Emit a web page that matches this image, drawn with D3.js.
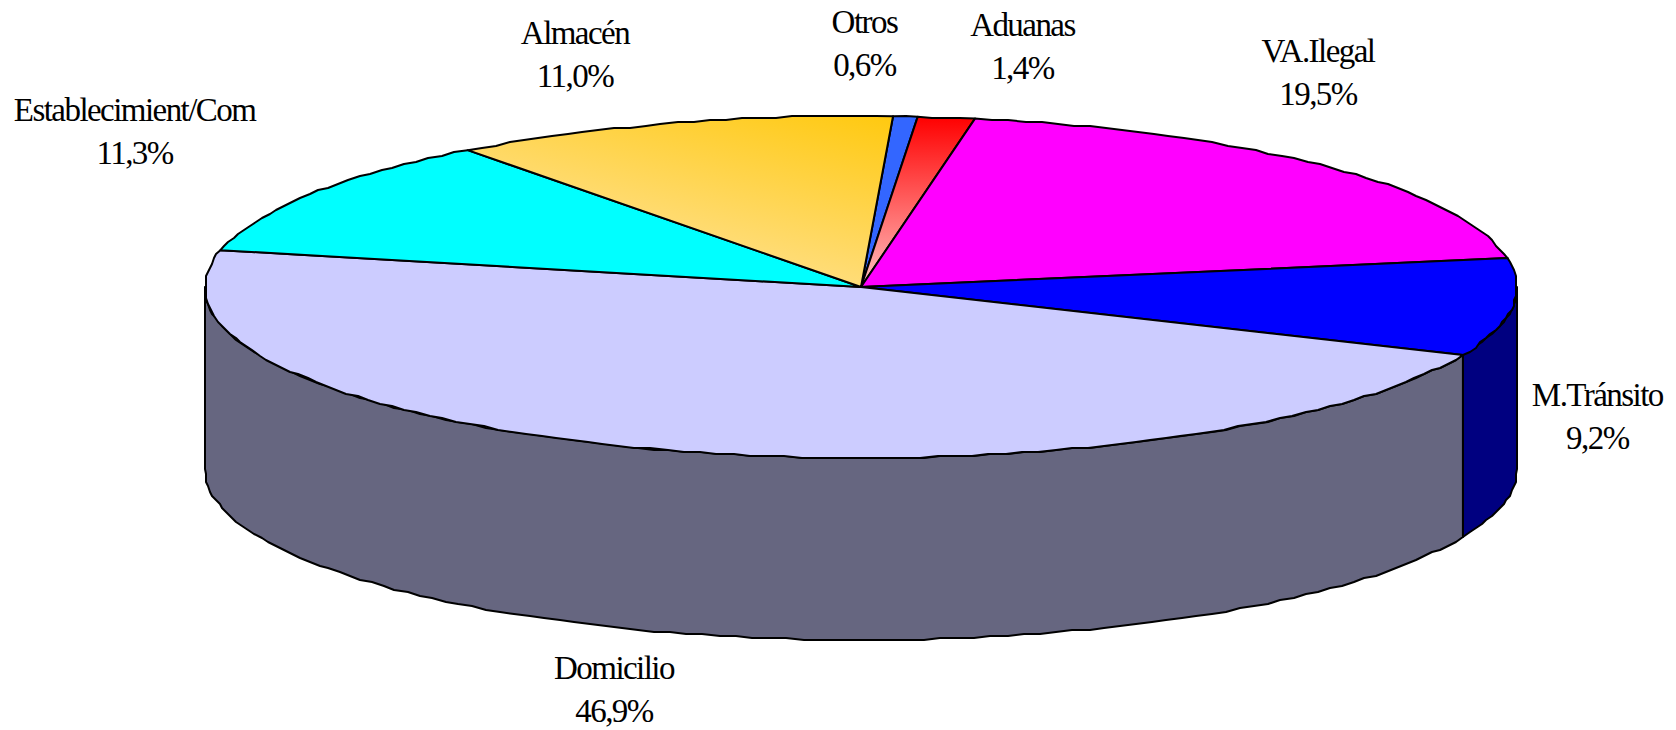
<!DOCTYPE html>
<html>
<head>
<meta charset="utf-8">
<script src="https://d3js.org/d3.v7.min.js"></script>
<style>
  html, body { margin: 0; padding: 0; background: #fff; }
  text { font-family: "Liberation Serif", serif; font-size: 33px; letter-spacing: -1.55px; fill: #000; }
</style>
</head>
<body>
<div id="chart"></div>
<script>
const categories = ["Otros", "Aduanas", "VA.Ilegal", "M.Tránsito", "Domicilio", "Establecimient/Com", "Almacén"];
const shares = [0.6, 1.4, 19.5, 9.2, 46.9, 11.3, 11.0];
const shareLabels = ["0,6%", "1,4%", "19,5%", "9,2%", "46,9%", "11,3%", "11,0%"];

const topColors = ["#3366ff", "url(#gradAduanas)", "#ff00ff", "#0000ff", "#ccccff", "#00ffff", "url(#gradAlmacen)"];
const wallColors = ["#1f3d99", "#990000", "#990099", "#000080", "#666680", "#009999", "#997a1f"];
// label nudge from the slice's rim point
const labelNudge = [[-41, -83], [76, -81], [-8, -104], [85, 99], [-45, 229], [-175, -73], [-94, -79]];

const width = 1676, height = 730;
const cx = 861, cy = 287, rx = 656, ry = 171, depth = 182;
const grid = 2;

const svg = d3.select("#chart").append("svg")
  .attr("width", width)
  .attr("height", height)
  .style("display", "block");

const defs = svg.append("defs");
const gradA = defs.append("linearGradient").attr("id", "gradAduanas")
  .attr("x1", 0).attr("y1", 0).attr("x2", 0).attr("y2", 1);
gradA.append("stop").attr("offset", "0%").attr("stop-color", "#ff0000");
gradA.append("stop").attr("offset", "100%").attr("stop-color", "#ffc0c0");
const gradB = defs.append("linearGradient").attr("id", "gradAlmacen")
  .attr("x1", 1).attr("y1", 0).attr("x2", 0.42).attr("y2", 0.85);
gradB.append("stop").attr("offset", "0%").attr("stop-color", "#ffc90f");
gradB.append("stop").attr("offset", "100%").attr("stop-color", "#ffe08c");

const pie = d3.pie().sort(null)
  .startAngle(2.8 * Math.PI / 180)
  .endAngle((360 + 2.8) * Math.PI / 180);
const slices = pie(shares);

function rim(a, dz) {
  return [cx + rx * Math.sin(a), cy - ry * Math.cos(a) + (dz || 0)];
}

// outline points are snapped so the rim has the slightly stepped look of the original
function snap(p) {
  return [Math.round(p[0] / grid) * grid, Math.round(p[1] / grid) * grid];
}

function arcPoints(a0, a1, dz) {
  const n = Math.max(2, Math.ceil((a1 - a0) / (1.5 * Math.PI / 180)));
  return d3.range(n + 1).map(i => {
    const p = rim(a0 + (a1 - a0) * i / n, dz);
    return (i === 0 || i === n) ? p : snap(p);
  });
}

const line = d3.line();

// side wall: only the part facing the viewer, between 90 and 270 degrees
slices.forEach((s, i) => {
  const a0 = Math.max(s.startAngle, Math.PI / 2);
  const a1 = Math.min(s.endAngle, 3 * Math.PI / 2);
  if (a1 <= a0) return;
  const upper = arcPoints(a0, a1, 0);
  const lower = arcPoints(a0, a1, depth).reverse();
  svg.append("path")
    .attr("d", line(upper.concat(lower)) + "Z")
    .attr("fill", wallColors[i])
    .attr("stroke", "#000")
    .attr("stroke-width", 2)
    .attr("stroke-linejoin", "round");
});

// top face
slices.forEach((s, i) => {
  const pts = [[cx, cy]].concat(arcPoints(s.startAngle, s.endAngle, 0));
  svg.append("path")
    .attr("d", line(pts) + "Z")
    .attr("fill", topColors[i])
    .attr("stroke", "#000")
    .attr("stroke-width", 2)
    .attr("stroke-linejoin", "round");
});

// labels
slices.forEach((s, i) => {
  const p = rim((s.startAngle + s.endAngle) / 2, 0);
  const t = svg.append("text")
    .attr("text-anchor", "middle")
    .attr("x", p[0] + labelNudge[i][0])
    .attr("y", p[1] + labelNudge[i][1]);
  t.append("tspan").text(categories[i]);
  t.append("tspan")
    .attr("x", p[0] + labelNudge[i][0])
    .attr("dy", 43)
    .text(shareLabels[i]);
});
</script>
</body>
</html>
